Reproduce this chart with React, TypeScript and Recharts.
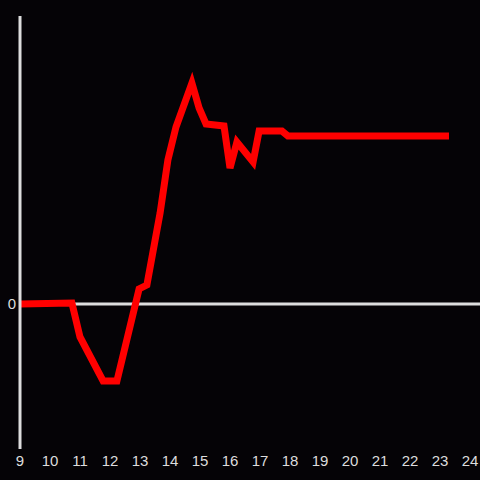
import { LineChart, Line, XAxis, YAxis, ReferenceLine } from "recharts";

// hours of the day (decimal) and the reading at each one
const hours = [9.0, 10.73, 11.0, 11.77, 12.23, 12.97, 13.23, 13.67, 13.93, 14.2, 14.73, 14.97, 15.2, 15.8, 16.0, 16.23, 16.77, 16.97, 17.73, 17.93, 23.3];
const values = [0, 1, -33, -77, -77, 15, 19, 91, 144, 177, 221, 196, 180, 178, 136, 162, 142, 173, 173, 168, 168];

const hourTicks = [9, 10, 11, 12, 13, 14, 15, 16, 17, 18, 19, 20, 21, 22, 23, 24];
const valueTicks = [0];

const data = hours.map((h, i) => ({ hour: h, value: values[i] }));

const AXIS = "#dddddd";
const tickStyle = { fill: AXIS, fontSize: 15, fontFamily: "'Liberation Sans', Arial, sans-serif" };

export default function App() {
  return (
    <div style={{ position: "absolute", left: 0, top: 0, width: 480, height: 480, background: "#050306" }}>
      <LineChart width={480} height={480} data={data} margin={{ top: 16, right: 0, bottom: 0, left: 0 }}>
        <XAxis
          dataKey="hour"
          type="number"
          domain={[9, 24.333]}
          ticks={hourTicks}
          axisLine={false}
          tickLine={false}
          tickSize={0}
          tickMargin={6}
          height={31}
          tick={tickStyle}
          interval={0}
        />
        <YAxis
          type="number"
          domain={[-145, 288]}
          ticks={valueTicks}
          allowDataOverflow
          width={20}
          axisLine={{ stroke: AXIS, strokeWidth: 3 }}
          tickLine={false}
          tickSize={0}
          tickMargin={4}
          tick={tickStyle}
        />
        <ReferenceLine y={0} stroke={AXIS} strokeWidth={3} />
        <Line
          type="linear"
          dataKey="value"
          stroke="#ff0000"
          strokeWidth={7}
          dot={false}
          isAnimationActive={false}
        />
      </LineChart>
    </div>
  );
}
